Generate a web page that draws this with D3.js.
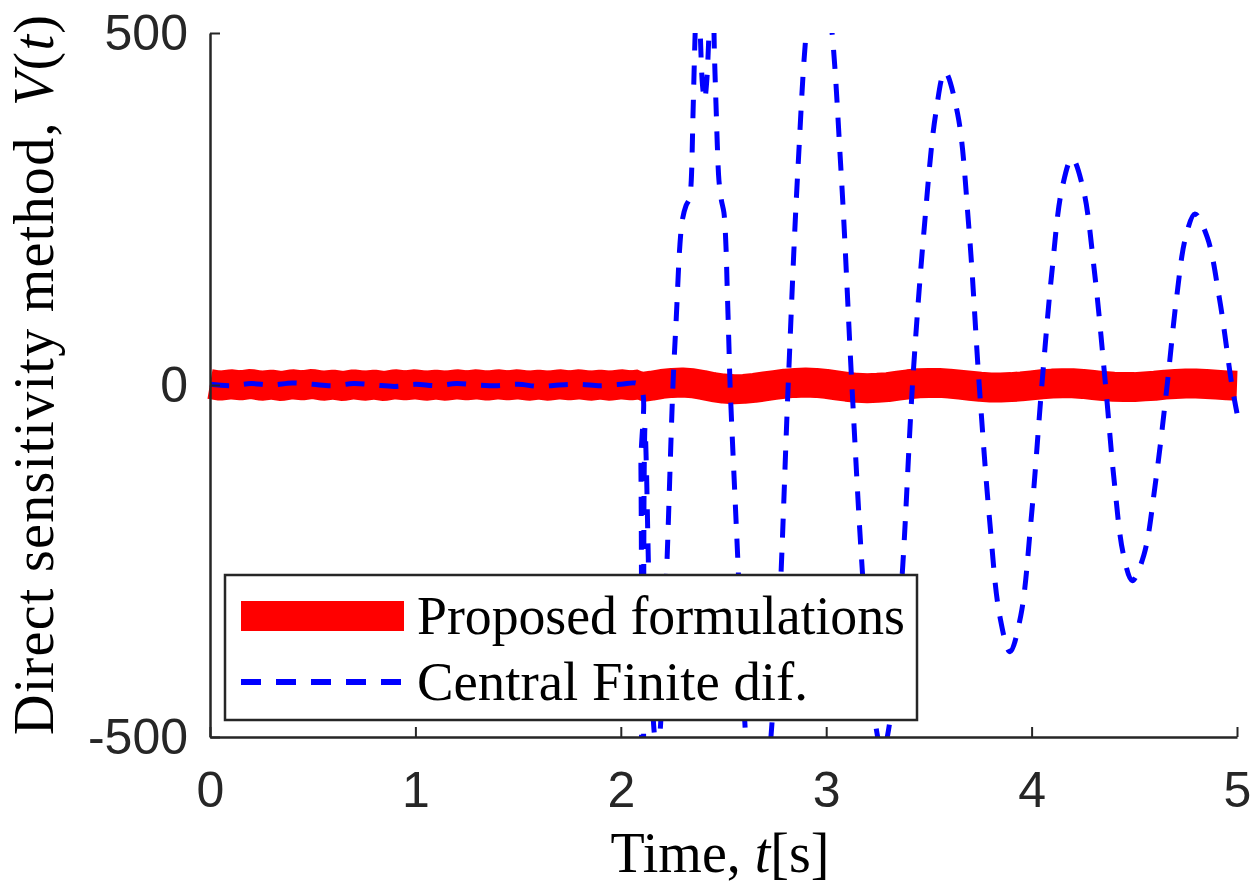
<!DOCTYPE html>
<html>
<head>
  <meta charset="utf-8">
  <title>Direct sensitivity</title>
  <script src="https://cdn.jsdelivr.net/npm/d3@7"></script>
  <style>
    body { margin: 0; background: #fff; }
  </style>
</head>
<body>
<script>
// series: [time (s), value]
var proposed = [
  [0.00, 1.5], [0.05, -1], [0.10, 1], [0.15, -0.5], [0.20, 1.5], [0.25, -1], [0.30, 0.5], [0.35, -1.5],
  [0.40, 1], [0.45, -0.5], [0.50, 1.5], [0.55, -1], [0.60, 0.5], [0.65, -1.5], [0.70, 1], [0.75, -1],
  [0.80, 0.5], [0.85, -1.5], [0.90, 1], [0.95, -0.5], [1.00, 1], [1.05, -1], [1.10, 0.5], [1.15, -1],
  [1.20, 1], [1.25, -0.5], [1.30, 1], [1.35, -1], [1.40, 1], [1.45, -0.5], [1.50, 1], [1.55, -1],
  [1.60, 0.5], [1.65, -1], [1.70, 1], [1.75, -0.5], [1.80, 1], [1.85, -1], [1.90, 0.5], [1.95, -1],
  [2.00, 1], [2.05, -0.5], [2.09, 1],
  [2.10, -3], [2.15, -1], [2.20, 1.5], [2.25, 3], [2.30, 3.5], [2.35, 2.5], [2.40, 0], [2.45, -3],
  [2.50, -5], [2.55, -6], [2.60, -5.5], [2.65, -4], [2.70, -2], [2.75, 0], [2.80, 2], [2.85, 3],
  [2.90, 3.5], [2.95, 3], [3.00, 1.5], [3.05, -0.5], [3.10, -2.5], [3.15, -4], [3.20, -4.5], [3.25, -4],
  [3.30, -3], [3.35, -1], [3.40, 1], [3.45, 2.5], [3.50, 3], [3.55, 3], [3.60, 2], [3.65, 0.5],
  [3.70, -1], [3.75, -2.5], [3.80, -3.5], [3.85, -3.5], [3.90, -3], [3.95, -2], [4.00, -0.5], [4.05, 1],
  [4.10, 2], [4.15, 2.5], [4.20, 2.5], [4.25, 1.5], [4.30, 0], [4.35, -1.5], [4.40, -2.5], [4.45, -3],
  [4.50, -3], [4.55, -2], [4.60, -1], [4.65, 0.5], [4.70, 1.5], [4.75, 2], [4.80, 2], [4.85, 1.5],
  [4.90, 0.5], [4.95, -0.5], [5.00, -1]
];

var centralFD = [
  [0.0, 1], [0.1, -1], [0.2, 2], [0.3, 0], [0.4, 3], [0.5, 1], [0.6, -1], [0.7, 2], [0.8, 0],
  [0.9, -2], [1.0, 1], [1.1, -1], [1.2, 2], [1.3, 0], [1.4, -1], [1.5, 1], [1.6, -2], [1.7, 0],
  [1.8, 1], [1.9, -1], [2.0, 1], [2.09, 0],
  [2.098, -120], [2.101, -900], [2.105, -1500], [2.110, -900], [2.114, -120], [2.118, -60],
  [2.124, -110], [2.135, -260], [2.150, -420], [2.165, -500], [2.180, -525], [2.192, -490],
  [2.205, -400], [2.225, -250], [2.254, 0], [2.270, 95], [2.288, 200], [2.300, 235], [2.318, 255],
  [2.335, 265], [2.342, 285], [2.352, 390], [2.362, 500], [2.372, 580], [2.380, 560], [2.388, 490],
  [2.398, 425], [2.408, 405], [2.418, 430], [2.428, 490], [2.438, 560], [2.447, 580], [2.455, 480],
  [2.460, 430], [2.465, 385], [2.470, 340], [2.478, 290], [2.490, 262], [2.502, 245], [2.512, 197],
  [2.517, 148], [2.522, 100], [2.527, 50], [2.532, 0],
  [2.570, -250], [2.608, -500], [2.640, -610], [2.670, -650], [2.700, -610], [2.731, -500],
  [2.770, -330], [2.815, 0],
  [2.862, 305], [2.913, 528], [2.965, 610], [3.018, 528], [3.072, 305], [3.125, 0],
  [3.175, -260], [3.225, -451], [3.274, -521], [3.323, -451], [3.372, -260], [3.420, 0],
  [3.477, 222], [3.533, 385], [3.578, 445], [3.640, 385], [3.695, 222], [3.745, 0],
  [3.795, -190], [3.845, -328], [3.895, -379], [3.947, -328], [3.998, -190], [4.050, 0],
  [4.099, 161], [4.148, 279], [4.197, 322], [4.251, 279], [4.306, 161], [4.360, 0],
  [4.403, -139], [4.447, -241], [4.490, -278], [4.547, -241], [4.603, -139], [4.660, 0],
  [4.705, 122], [4.750, 210], [4.795, 243], [4.855, 210], [4.915, 122], [4.975, 0], [5.0, -40]
];

var xTicks = [0, 1, 2, 3, 4, 5];
var yTicks = [-500, 0, 500];
var legendLabels = ["Proposed formulations", "Central Finite dif."];

var width = 1256, height = 884;
var margin = { top: 33, right: 19, bottom: 147, left: 210 };
var axisColor = "#262626";
var sans = "Liberation Sans, Arial, sans-serif";
var serif = "Liberation Serif, DejaVu Serif, serif";

var svg = d3.select("body").append("svg")
  .attr("width", width).attr("height", height)
  .attr("font-family", sans);

var x = d3.scaleLinear().domain([0, 5]).range([margin.left, width - margin.right]);
var y = d3.scaleLinear().domain([-500, 500]).range([height - margin.bottom, margin.top]);

svg.append("defs").append("clipPath").attr("id", "plotclip")
  .append("rect")
  .attr("x", x(0) - 5).attr("y", y(500))
  .attr("width", x(5) - x(0) + 10).attr("height", y(-500) - y(500));

// lines
var line = d3.line()
  .x(function(d) { return x(d[0]); })
  .y(function(d) { return y(d[1]); });

svg.append("path")
  .datum(proposed)
  .attr("fill", "none")
  .attr("stroke", "#ff0000")
  .attr("stroke-width", 30)
  .attr("stroke-linejoin", "bevel")
  .attr("d", line);

svg.append("path")
  .datum(centralFD)
  .attr("clip-path", "url(#plotclip)")
  .attr("fill", "none")
  .attr("stroke", "#0000ff")
  .attr("stroke-width", 5)
  .attr("stroke-dasharray", "19,15")
  .attr("d", line.curve(d3.curveCatmullRom.alpha(0.5)));

// axes
var xAxis = d3.axisBottom(x).tickValues(xTicks).tickSizeInner(-10).tickSizeOuter(0)
  .tickPadding(34).tickFormat(function(d) { return String(d); });
var yAxis = d3.axisLeft(y).tickValues(yTicks).tickSizeInner(-10).tickSizeOuter(0)
  .tickPadding(22).tickFormat(function(d) { return String(d); });

var gx = svg.append("g").attr("transform", "translate(0," + y(-500) + ")").call(xAxis);
var gy = svg.append("g").attr("transform", "translate(" + x(0) + ",0)").call(yAxis);

[gx, gy].forEach(function(g) {
  g.attr("font-family", sans).attr("font-size", 50);
  g.select(".domain").attr("stroke", axisColor).attr("stroke-width", 2.5);
  g.selectAll(".tick line").attr("stroke", axisColor).attr("stroke-width", 2);
  g.selectAll(".tick text").attr("fill", axisColor);
});

// axis labels
var xl = svg.append("text")
  .attr("x", 720).attr("y", 872)
  .attr("text-anchor", "middle")
  .attr("fill", "#000")
  .attr("font-family", serif).attr("font-size", 56);
xl.append("tspan").text("Time, ");
xl.append("tspan").attr("font-style", "italic").text("t");
xl.append("tspan").text("[s]");

var yl = svg.append("text")
  .attr("transform", "translate(53,375) rotate(-90)")
  .attr("text-anchor", "middle")
  .attr("fill", "#000")
  .attr("textLength", 720)
  .attr("lengthAdjust", "spacing")
  .attr("font-family", serif).attr("font-size", 56);
yl.append("tspan").text("Direct sensitivity method, ");
yl.append("tspan").attr("font-style", "italic").text("V");
yl.append("tspan").text("(");
yl.append("tspan").attr("font-style", "italic").text("t");
yl.append("tspan").text(")");

// legend
var lg = svg.append("g");
lg.append("rect")
  .attr("x", 225).attr("y", 575).attr("width", 692).attr("height", 145)
  .attr("fill", "#fff").attr("stroke", axisColor).attr("stroke-width", 2.5);

var legendStyles = [
  { color: "#ff0000", w: 30, dash: null },
  { color: "#0000ff", w: 6, dash: "20,15" }
];
var legendRows = [616, 682];
var legendEnds = [905, 808];

legendLabels.forEach(function(label, i) {
  var s = legendStyles[i];
  var ln = lg.append("line")
    .attr("x1", 241).attr("x2", 404)
    .attr("y1", legendRows[i]).attr("y2", legendRows[i])
    .attr("stroke", s.color).attr("stroke-width", s.w);
  if (s.dash) ln.attr("stroke-dasharray", s.dash);
  lg.append("text")
    .attr("x", 417).attr("y", legendRows[i] + 18)
    .attr("fill", "#000")
    .attr("textLength", legendEnds[i] - 417)
    .attr("lengthAdjust", "spacingAndGlyphs")
    .attr("font-family", serif).attr("font-size", 54)
    .text(label);
});
</script>
</body>
</html>
